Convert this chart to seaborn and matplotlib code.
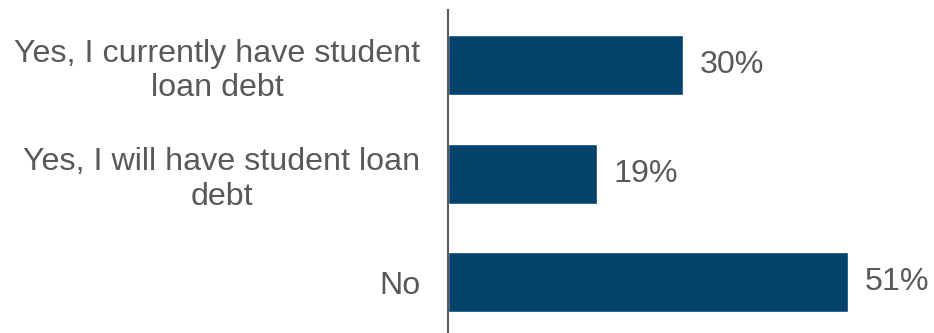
import matplotlib
matplotlib.use("Agg")
import matplotlib.pyplot as plt
import seaborn as sns
import pandas as pd

categories = ["Yes, I currently have student\nloan debt",
              "Yes, I will have student loan\ndebt",
              "No"]
values = [30, 19, 51]
value_labels = ["30%", "19%", "51%"]

sns.set_style("white")
plt.rcParams['font.family'] = ['Liberation Sans', 'DejaVu Sans']

df = pd.DataFrame({"category": categories, "value": values})

fig = plt.figure(figsize=(9.34, 3.33), dpi=100)
ax = fig.add_axes([448/934, 0, 1 - 448/934, (333 - 10)/333])
sns.barplot(data=df, x="value", y="category", orient="h", color="#03426B",
            saturation=1, width=0.553, ax=ax)

ax.set_xlim(0, 62)
ax.set_ylim(2.47, -0.507)
ax.set_xlabel("")
ax.set_ylabel("")
ax.set_xticks([])
for s in ["top", "right", "bottom"]:
    ax.spines[s].set_visible(False)
ax.spines["left"].set_color("#595959")
ax.spines["left"].set_linewidth(1.5)

ax.tick_params(axis="y", length=0, pad=20, labelsize=23.2, labelcolor="#595959")
for lbl in ax.get_yticklabels():
    lbl.set_multialignment("center")
    lbl.set_linespacing(1.2)

for i, (v, t) in enumerate(zip(values, value_labels)):
    ax.annotate(t, xy=(v, i), xytext=(12, 0), textcoords="offset points",
                ha="left", va="center", fontsize=23.2, color="#595959")

fig.savefig("out.png", dpi=100)
